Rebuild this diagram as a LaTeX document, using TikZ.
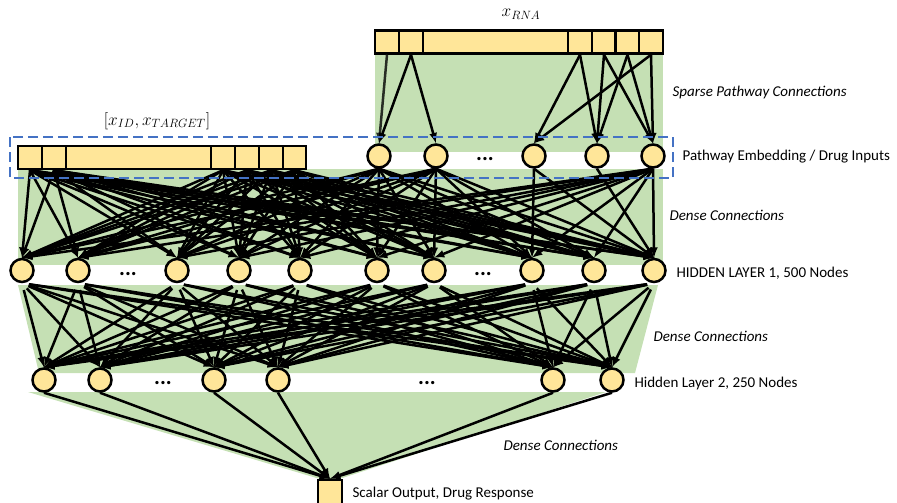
\documentclass[tikz,border=0pt]{standalone}
\usepackage{fontspec}
\setmainfont{Carlito}
\definecolor{gelb}{HTML}{FFE699}
\definecolor{gruen}{HTML}{C5E0B4}
\definecolor{blau}{HTML}{4472C4}
\def\lw{2.5pt}
\tikzset{
  inputcell/.style={rectangle,draw,fill=gelb,line width=\lw,inner sep=0pt,minimum height=23pt},
  neuron/.style={circle,draw,fill=gelb,line width=\lw,inner sep=0pt,minimum size=23pt},
  dots/.style={anchor=base,inner sep=0pt,font=\fontsize{22}{24}\selectfont\bfseries},
  label/.style={anchor=west}
}

\begin{document}
\begin{tikzpicture}[x=1pt,y=-1pt,>=latex,line width=\lw,font=\fontsize{15}{18}\selectfont]
\useasboundingbox (0,0) rectangle (897,503);
% green areas
\fill[gruen] (375,53) rectangle (663,152);
\fill[gruen] (18,169) rectangle (663,265);
\fill[gruen] (18,285) -- (658,285) -- (635,373) -- (39,373) -- cycle;
\fill[gruen] (28,392) -- (606,392) -- (330,482) -- cycle;

% RNA input
\node[inputcell,minimum width=24pt] (r1) at (387,42) {};
\node[inputcell,minimum width=24pt] (r2) at (411,42) {};
\node[inputcell,minimum width=145pt] (r3) at (495.5,42) {};
\node[inputcell,minimum width=24pt] (r4) at (580,42) {};
\node[inputcell,minimum width=24pt] (r5) at (604,42) {};
\node[inputcell,minimum width=24pt] (r6) at (627.5,42) {};
\node[inputcell,minimum width=24pt] (r7) at (651,42) {};
\node[font=\fontsize{17}{20}\selectfont] (xrna) at (521,14) {$x_{RNA}$};

% ID / target input
\node[inputcell,minimum width=24pt] (a1) at (30,157.5) {};
\node[inputcell,minimum width=24pt] (a2) at (54,157.5) {};
\node[inputcell,minimum width=145pt] (a3) at (138.5,157.5) {};
\node[inputcell,minimum width=24pt] (a4) at (223,157.5) {};
\node[inputcell,minimum width=24pt] (a5) at (247,157.5) {};
\node[inputcell,minimum width=24pt] (a6) at (271,157.5) {};
\node[inputcell,minimum width=23pt] (a7) at (294.5,157.5) {};
\node[font=\fontsize{17}{20}\selectfont] (xid) at (157,121) {$[x_{ID},x_{TARGET}]$};

% pathway embedding
\node[neuron] (p1) at (379,156) {};
\node[neuron] (p2) at (436,156) {};
\node[neuron] (p3) at (534,156) {};
\node[neuron] (p4) at (597,156) {};
\node[neuron] (p5) at (653,156) {};
\node[dots] (pd) at (485,160) {...};

% hidden layer 1
\node[neuron] (h1) at (22,270.5) {};
\node[neuron] (h2) at (78,270.5) {};
\node[neuron] (h3) at (177,270.5) {};
\node[neuron] (h4) at (239,270.5) {};
\node[neuron] (h5) at (300,270.5) {};
\node[neuron] (h6) at (377,270.5) {};
\node[neuron] (h7) at (434,270.5) {};
\node[neuron] (h8) at (532,270.5) {};
\node[neuron] (h9) at (594,270.5) {};
\node[neuron] (h10) at (654,270.5) {};
\node[dots] (hd1) at (128,275) {...};
\node[dots] (hd2) at (483,275) {...};

% hidden layer 2
\node[neuron] (g1) at (44,380) {};
\node[neuron] (g2) at (100,380) {};
\node[neuron] (g3) at (214,380) {};
\node[neuron] (g4) at (278,380) {};
\node[neuron] (g5) at (553,380) {};
\node[neuron] (g6) at (612,380) {};
\node[dots] (gd1) at (163,384) {...};
\node[dots] (gd2) at (427,384) {...};

% output
\node[inputcell,minimum width=24pt,minimum height=24pt] (out) at (330,492) {};

% sparse connections
\draw[->,draw=gruen!20!black] (r1.south) -- (p1.north);
\foreach \r/\p in {r2/p1,r2/p2,r4/p3,r4/p4,r5/p4,r5/p5,r6/p4,r6/p5,r7/p3,r7/p5}
  \draw[->] (\r.south) -- (\p.north);

% dense connections
\foreach \a in {a1,a2,a4,a5,a6,a7,p1,p2,p5}
  \foreach \h in {1,...,10}
    \draw[->] (\a.south) -- (h\h.north);
\foreach \a/\h in {p3/8,p3/10,p4/10}
  \draw[->] (\a.south) -- (h\h.north);
\foreach \h in {1,...,10}
  \foreach \g in {1,...,6}
    \draw[->,shorten <=7pt] (h\h.south) -- (g\g.north);
\foreach \g in {1,...,6}
  \draw[->] (g\g.south) -- (out.north);

% embedding box
\draw[blau,dash pattern=on 10pt off 5pt] (10,137) rectangle (673,178);

% labels
\node[label] (lsparse) at (668,93) {\itshape Sparse Pathway Connections};
\node[label] (lpath) at (678,157) {Pathway Embedding / Drug Inputs};
\node[label] (ldense1) at (665,215) {\itshape Dense Connections};
\node[label] (lhid1) at (672,273) {HIDDEN LAYER 1, 500 Nodes};
\node[label] (ldense2) at (649,336) {\itshape Dense Connections};
\node[label] (lhid2) at (630,383) {Hidden Layer 2, 250 Nodes};
\node[label] (ldense3) at (499,445) {\itshape Dense Connections};
\node[label] (lout) at (348,494) {Scalar Output, Drug Response};
\end{tikzpicture}
\end{document}
